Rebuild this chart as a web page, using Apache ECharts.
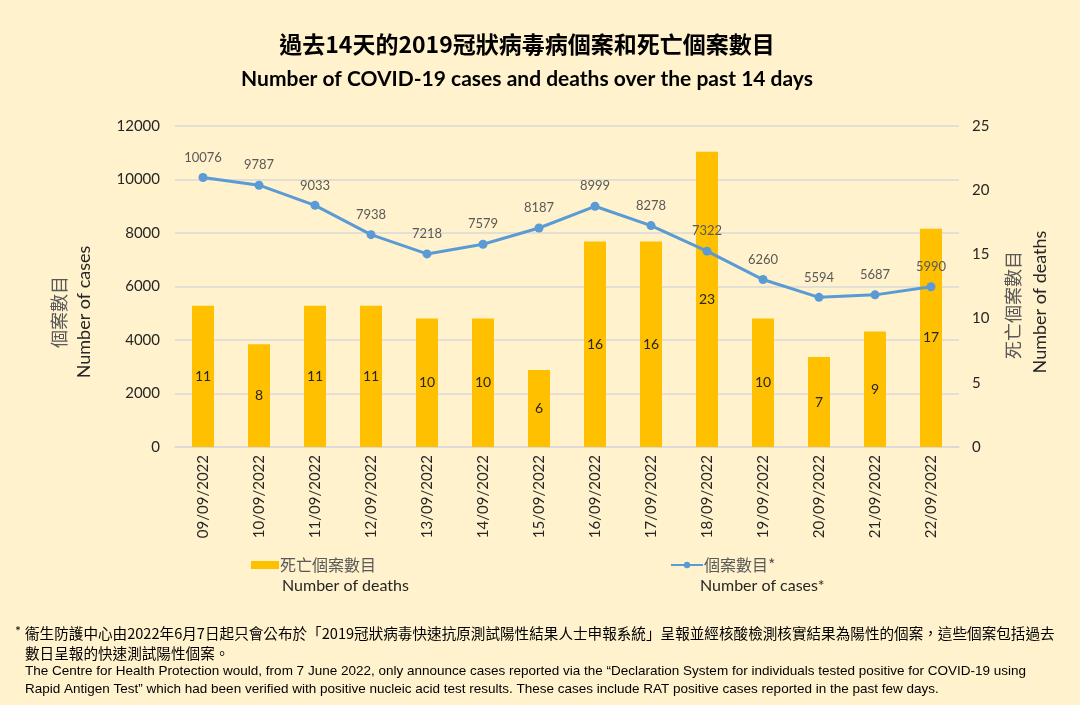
<!DOCTYPE html>
<html><head><meta charset="utf-8">
<script src="https://cdn.jsdelivr.net/npm/echarts@6/dist/echarts.min.js"></script>
<style>html,body{margin:0;padding:0;background:#FFF2CC;}#c{width:1080px;height:705px;}</style>
</head><body><div id="c"></div>
<script>
const categories = ['09/09/2022','10/09/2022','11/09/2022','12/09/2022','13/09/2022','14/09/2022','15/09/2022','16/09/2022','17/09/2022','18/09/2022','19/09/2022','20/09/2022','21/09/2022','22/09/2022'];
const cases = [10076, 9787, 9033, 7938, 7218, 7579, 8187, 8999, 8278, 7322, 6260, 5594, 5687, 5990];
const deaths = [11, 8, 11, 11, 10, 10, 6, 16, 16, 23, 10, 7, 9, 17];
const leftTicks = {min: 0, max: 12000, interval: 2000};
const rightTicks = {min: 0, max: 25, interval: 5};

const FONT = 'Lato, "Noto Sans CJK TC", sans-serif';
const CJK = '"Noto Sans CJK TC", sans-serif';
const chart = echarts.init(document.getElementById('c'));
chart.setOption({
  backgroundColor: '#FFF2CC',
  textStyle: {fontFamily: FONT},
  grid: {left: 175, right: 121, top: 126, bottom: 258, containLabel: false},
  legend: [
    {data: ['死亡個案數目'], left: 246, top: 552, itemWidth: 28, itemHeight: 8, icon: 'rect',
     textStyle: {fontFamily: CJK, fontSize: 16, color: '#595959', padding: [0,0,0,-4]}},
    {data: ['個案數目*'], left: 665, top: 552, itemWidth: 32, itemHeight: 8,
     textStyle: {fontFamily: CJK, fontSize: 16, color: '#595959', padding: [0,0,0,-4]}}
  ],
  xAxis: {
    type: 'category', data: categories, boundaryGap: true,
    axisLine: {lineStyle: {color: '#D9D9D9', width: 1.5}},
    axisTick: {show: false},
    axisLabel: {rotate: 90, fontSize: 15, color: '#262626', margin: 8, fontFamily: FONT}
  },
  yAxis: [
    {type: 'value', min: leftTicks.min, max: leftTicks.max, interval: leftTicks.interval,
     axisLine: {show: false}, axisTick: {show: false},
     splitLine: {lineStyle: {color: '#D9D9D9', width: 1.5}},
     axisLabel: {fontSize: 15, color: '#262626', margin: 15, fontFamily: FONT, formatter: v => String(v)}},
    {type: 'value', min: rightTicks.min, max: rightTicks.max, interval: rightTicks.interval,
     axisLine: {show: false}, axisTick: {show: false}, splitLine: {show: false},
     axisLabel: {fontSize: 15, color: '#262626', margin: 13, fontFamily: FONT, formatter: v => String(v)}}
  ],
  series: [
    {name: '死亡個案數目', type: 'bar', yAxisIndex: 1, data: deaths, barWidth: 22,
     itemStyle: {color: '#FFC000'},
     label: {show: true, position: 'inside', fontSize: 14, color: '#262626', fontFamily: FONT}},
    {name: '個案數目*', type: 'line', yAxisIndex: 0, data: cases,
     symbol: 'circle', symbolSize: 9,
     lineStyle: {color: '#5B9BD5', width: 3}, itemStyle: {color: '#5B9BD5'},
     label: {show: true, position: 'top', distance: 9, fontSize: 13, color: '#595959', fontFamily: FONT}}
  ],
  graphic: [
    {type: 'text', x: 527, y: 44, style: {text: '過去14天的2019冠狀病毒病個案和死亡個案數目', font: 'bold 23px "Noto Sans CJK TC", sans-serif', fill: '#000', textAlign: 'center', textVerticalAlign: 'middle'}},
    {type: 'text', x: 527, y: 79, style: {text: 'Number of COVID-19 cases and deaths over the past 14 days', font: 'bold 21px Lato, sans-serif', fill: '#000', textAlign: 'center', textVerticalAlign: 'middle'}},
    {type: 'text', x: 59, y: 312, rotation: Math.PI/2, style: {text: '個案數目', font: '18px "Noto Sans CJK TC", sans-serif', fill: '#595959', textAlign: 'center', textVerticalAlign: 'middle'}},
    {type: 'text', x: 84, y: 312, rotation: Math.PI/2, style: {text: 'Number of cases', font: '18px Lato, sans-serif', fill: '#262626', textAlign: 'center', textVerticalAlign: 'middle'}},
    {type: 'text', x: 1013, y: 305, rotation: Math.PI/2, style: {text: '死亡個案數目', font: '18px "Noto Sans CJK TC", sans-serif', fill: '#595959', textAlign: 'center', textVerticalAlign: 'middle'}},
    {type: 'text', x: 1040, y: 302, rotation: Math.PI/2, style: {text: 'Number of deaths', font: '18px Lato, sans-serif', fill: '#262626', textAlign: 'center', textVerticalAlign: 'middle'}},
    {type: 'text', x: 282, y: 586, style: {text: 'Number of deaths', font: '16px Lato, sans-serif', fill: '#262626', textVerticalAlign: 'middle'}},
    {type: 'text', x: 700, y: 586, style: {text: 'Number of cases*', font: '16px Lato, sans-serif', fill: '#262626', textVerticalAlign: 'middle'}},
    {type: 'text', x: 15, y: 624, style: {text: '*', font: '14px Lato, sans-serif', fill: '#000'}},
    {type: 'text', x: 25, y: 633, style: {text: '衞生防護中心由2022年6月7日起只會公布於「2019冠狀病毒快速抗原測試陽性結果人士申報系統」呈報並經核酸檢測核實結果為陽性的個案，這些個案包括過去', font: '14.6px "Noto Sans CJK TC", sans-serif', fill: '#000', textVerticalAlign: 'middle'}},
    {type: 'text', x: 25, y: 653, style: {text: '數日呈報的快速測試陽性個案。', font: '14.6px "Noto Sans CJK TC", sans-serif', fill: '#000', textVerticalAlign: 'middle'}},
    {type: 'text', x: 25, y: 671, style: {text: 'The Centre for Health Protection would, from 7 June 2022, only announce cases reported via the \u201cDeclaration System for individuals tested positive for COVID-19 using', font: '13.5px "Liberation Sans Narrow", sans-serif', fill: '#000', textVerticalAlign: 'middle'}},
    {type: 'text', x: 25, y: 689, style: {text: 'Rapid Antigen Test\u201d which had been verified with positive nucleic acid test results. These cases include RAT positive cases reported in the past few days.', font: '13.5px "Liberation Sans Narrow", sans-serif', fill: '#000', textVerticalAlign: 'middle'}}
  ]
});
</script></body></html>
